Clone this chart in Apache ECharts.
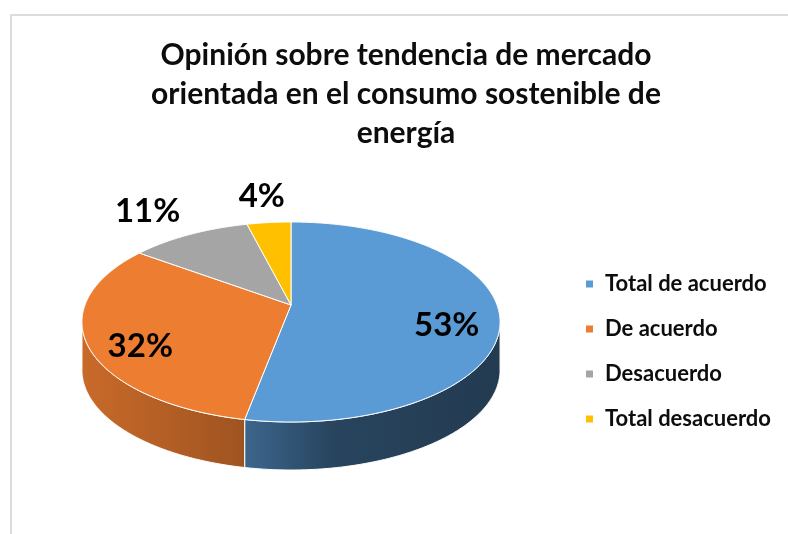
<!DOCTYPE html>
<html><head><meta charset="utf-8">
<script src="https://cdn.jsdelivr.net/npm/echarts@6/dist/echarts.min.js"></script>
<style>html,body{margin:0;padding:0;background:#fff}#c{width:788px;height:534px}</style>
</head><body><div id="c"></div>
<script>
// ---- data ----
const categories = ['Total de acuerdo', 'De acuerdo', 'Desacuerdo', 'Total desacuerdo'];
const values = [53, 32, 11, 4];
const valueLabels = ['53%', '32%', '11%', '4%'];
const colors = ['#5b9bd5', '#ed7d31', '#a5a5a5', '#ffc000'];
const titleText = 'Opinión sobre tendencia de mercado\norientada en el consumo sostenible de\nenergía';

// ---- 3D pie projection (perspective) ----
const CX = 291, CY = 305, A = 206, B = 97.1, K = 0.17, DEPTH = 48;
const FONT = 'Lato';
function proj(r, t) {
  const u = r * Math.sin(t), v = r * Math.cos(t);
  const d = 1 + K * v;
  return [CX + A * u / d, CY - B * v / d];
}
const total = values.reduce((a, b) => a + b, 0);
function shade(hex, f) {
  const n = parseInt(hex.slice(1), 16);
  const r = Math.round(((n >> 16) & 255) * f), g = Math.round(((n >> 8) & 255) * f), b = Math.round((n & 255) * f);
  return 'rgb(' + r + ',' + g + ',' + b + ')';
}
const tSilR = Math.acos(-K);
const tSilL = 2 * Math.PI - tSilR;
const STEP = Math.PI / 360;

function arcPts(r, ta, tb, dy) {
  const pts = [];
  const n = Math.max(2, Math.ceil((tb - ta) / STEP));
  for (let k = 0; k <= n; k++) {
    const p = proj(r, ta + (tb - ta) * k / n);
    pts.push([p[0], p[1] + dy]);
  }
  return pts;
}

function renderItem(params, api) {
  const i = params.seriesIndex;
  const val = api.value(0);
  let start = 0;
  for (let k = 0; k < i; k++) start += values[k];
  const t1 = start / total * 2 * Math.PI;
  const t2 = (start + val) / total * 2 * Math.PI;
  const color = colors[i];
  const children = [];
  // side wall (front-visible part)
  const ta = Math.max(t1, tSilR), tb = Math.min(t2, tSilL);
  if (ta < tb) {
    const top = arcPts(1, ta, tb, 0);
    const bot = arcPts(1, ta, tb, DEPTH).reverse();
    children.push({
      type: 'polygon',
      shape: { points: top.concat(bot) },
      style: {
        fill: {
          type: 'linear', x: CX - 209, y: 0, x2: CX + 209, y2: 0, global: true,
          colorStops: [
            { offset: 0, color: shade(color, 0.85) },
            { offset: 0.37, color: shade(color, 0.68) },
            { offset: 0.6, color: shade(color, 0.44) },
            { offset: 1, color: shade(color, 0.38) }
          ]
        },
        stroke: '#ffffff', lineWidth: 1
      }
    });
  }
  // top face
  const face = [proj(0, 0)].concat(arcPts(1, t1, t2, 0));
  children.push({
    type: 'polygon',
    shape: { points: face },
    style: { fill: color, stroke: '#ffffff', lineWidth: 1 }
  });
  // label
  const mid = (t1 + t2) / 2;
  const outside = val / total < 0.15;
  const lp = proj(outside ? 1.4 : 0.75, mid);
  const dx = outside ? (mid > 5.5 && mid < 5.9 ? -8 : 0) : 0;
  const dy = outside ? 0 : 13;
  children.push({
    type: 'text',
    style: {
      text: valueLabels[i], x: lp[0] + dx, y: lp[1] + dy,
      align: 'center', verticalAlign: 'middle',
      fontSize: 33, fontWeight: 'bold', fontFamily: FONT, fill: '#000000'
    }
  });
  return { type: 'group', children: children };
}

const series = categories.map((name, i) => ({
  type: 'custom',
  name: name,
  coordinateSystem: 'none',
  renderItem: renderItem,
  itemStyle: { color: colors[i] },
  data: [[values[i]]],
  silent: true,
  animation: false
}));

const chart = echarts.init(document.getElementById('c'), null, { renderer: 'canvas' });
chart.setOption({
  backgroundColor: '#ffffff',
  animation: false,
  title: {
    text: titleText,
    left: 406,
    top: 36,
    padding: 0,
    textAlign: 'center',
    textStyle: { fontSize: 30, fontWeight: 'bold', fontFamily: FONT, color: '#0d0d0d', lineHeight: 39 }
  },
  legend: {
    orient: 'vertical',
    left: 581,
    top: 268,
    icon: 'rect',
    itemWidth: 7,
    itemHeight: 7,
    itemGap: 23,
    selectedMode: false,
    data: categories,
    textStyle: { fontSize: 22, fontWeight: 'bold', fontFamily: FONT, color: '#0d0d0d', lineHeight: 20, padding: [0, 0, 0, 7] }
  },
  graphic: [{
    type: 'rect', silent: true,
    shape: { x: 11, y: 15, width: 800, height: 540 },
    style: { fill: null, stroke: '#dcdcdc', lineWidth: 2 }
  }],
  series: series
});
</script></body></html>
